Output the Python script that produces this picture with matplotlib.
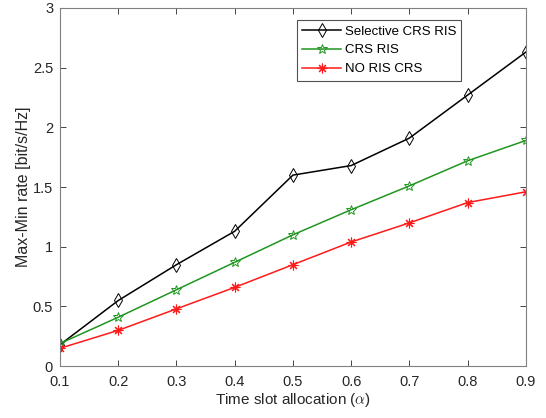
import matplotlib
matplotlib.use("Agg")
import matplotlib.pyplot as plt

alpha = [0.1, 0.2, 0.3, 0.4, 0.5, 0.6, 0.7, 0.8, 0.9]
selective_crs_ris = [0.18, 0.55, 0.85, 1.13, 1.60, 1.68, 1.91, 2.27, 2.63]
crs_ris = [0.19, 0.41, 0.64, 0.87, 1.10, 1.31, 1.51, 1.72, 1.89]
no_ris_crs = [0.15, 0.30, 0.48, 0.66, 0.85, 1.04, 1.20, 1.37, 1.46]

plt.rcParams["font.family"] = ["Liberation Sans", "DejaVu Sans"]
plt.rcParams["mathtext.fontset"] = "cm"

fig = plt.figure(figsize=(5.46, 4.18), dpi=100)
ax = fig.add_axes([0.110, 0.124, 0.853, 0.857])

ax.plot(alpha, selective_crs_ris, "-d", color="black", linewidth=1.1,
        markerfacecolor="none", markersize=7.5, markeredgewidth=0.7, label="Selective CRS RIS")
ax.plot(alpha, crs_ris, "-*", color="#1f961f", linewidth=1.1,
        markerfacecolor="none", markersize=7, markeredgewidth=0.7, label="CRS RIS")
ax.plot(alpha, no_ris_crs, "-", marker=(8, 2, 0), color="#ff1a1a", linewidth=1.1,
        markersize=7, markeredgewidth=0.8, label="NO RIS CRS")

ax.set_xlim(0.1, 0.9)
ax.set_ylim(0, 3)
ax.set_xticks(alpha)
ax.set_xticklabels([f"{a:g}" for a in alpha])
ax.set_yticks([0, 0.5, 1, 1.5, 2, 2.5, 3])
ax.set_yticklabels(["0", "0.5", "1", "1.5", "2", "2.5", "3"])
ax.tick_params(direction="in", top=True, right=True, labelsize=10.5,
               colors="#262626", length=4, width=0.6)
ax.tick_params(axis="x", pad=6)
ax.tick_params(axis="y", pad=5)
for s in ax.spines.values():
    s.set_color("#808080")
    s.set_linewidth(0.8)

ax.set_xlabel(r"Time slot allocation ($\alpha$)", fontsize=11, color="#262626", labelpad=2)
ax.set_ylabel("Max-Min rate [bit/s/Hz]", fontsize=11.5, color="#262626", labelpad=1)

leg = ax.legend(loc="upper left", bbox_to_anchor=(0.509, 0.966), fontsize=9.5,
                frameon=True, fancybox=False, borderpad=0.4, labelspacing=0.5,
                handlelength=2.9, handletextpad=0.3, borderaxespad=0)
leg.get_frame().set_edgecolor("#262626")
leg.get_frame().set_linewidth(0.8)

fig.savefig("out.png", dpi=100)
